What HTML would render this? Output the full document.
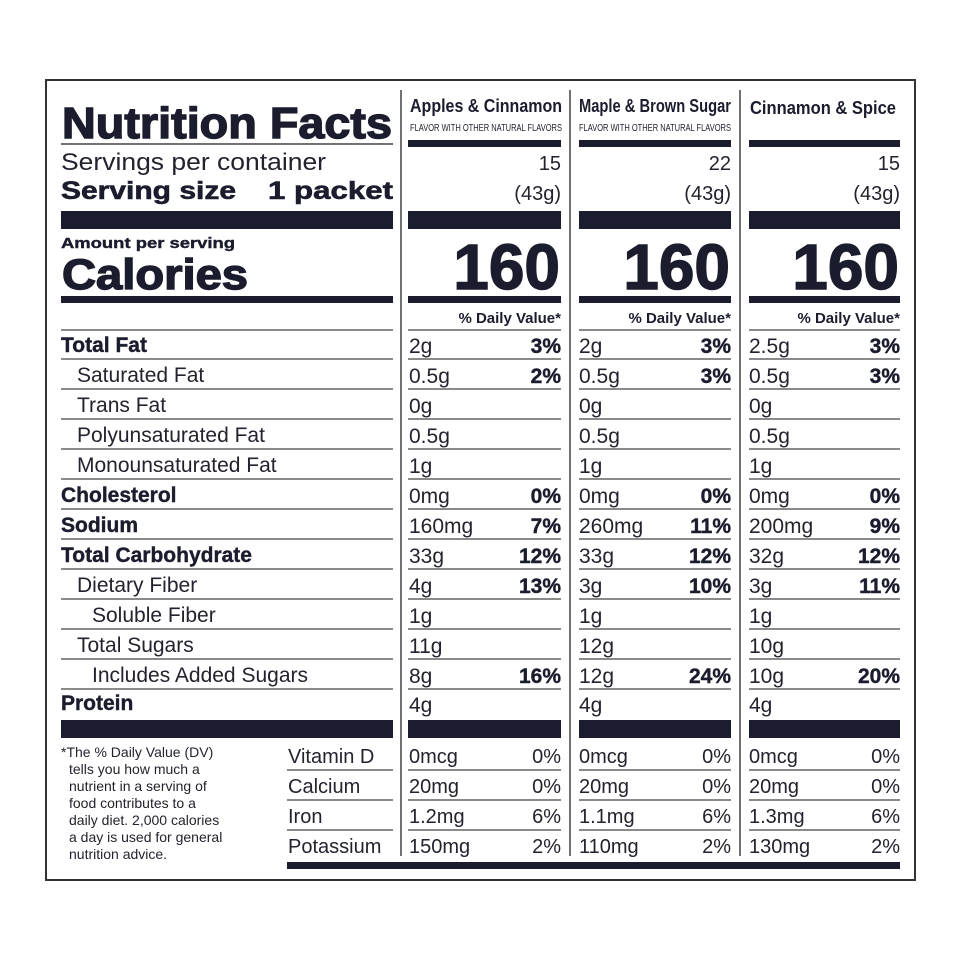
<!DOCTYPE html>
<html><head><meta charset="utf-8"><style>
html,body{margin:0;padding:0;background:#fff;}
svg{display:block}
text{font-family:"Liberation Sans",Arial,sans-serif;fill:#22232e}
.b{font-weight:bold;fill:#1b1d2e}
.hv{stroke:#1b1d2e;stroke-width:1.4}
.r{font-size:21px}
.rb{font-size:21px;font-weight:bold;fill:#1b1d2e;stroke:#1b1d2e;stroke-width:0.4}
.e{text-anchor:end}
.v{font-size:20px}
.f{font-size:14px}
</style></head><body>
<svg width="960" height="960" viewBox="0 0 960 960" xmlns="http://www.w3.org/2000/svg">
<rect x="0" y="0" width="960" height="960" fill="#fff"/>
<rect x="46" y="80" width="869" height="800" fill="none" stroke="#333" stroke-width="2"/>
<g stroke="#444" stroke-width="1.5">
<line x1="401" y1="90" x2="401" y2="856"/>
<line x1="570" y1="90" x2="570" y2="856"/>
<line x1="740" y1="90" x2="740" y2="856"/>
</g>
<text x="62" y="138" class="b hv" font-size="44" textLength="330" lengthAdjust="spacingAndGlyphs">Nutrition Facts</text>
<line x1="61" y1="144" x2="393" y2="144" stroke="#444" stroke-width="1.5"/>
<text x="61" y="170" font-size="24" textLength="265" lengthAdjust="spacingAndGlyphs">Servings per container</text>
<text x="61" y="199" class="b" font-size="25" textLength="175" lengthAdjust="spacingAndGlyphs" stroke="#1b1d2e" stroke-width="0.6">Serving size</text>
<text x="393" y="199" class="b e" font-size="25" textLength="125" lengthAdjust="spacingAndGlyphs" stroke="#1b1d2e" stroke-width="0.6">1 packet</text>
<g fill="#1b1d2e">
<rect x="61" y="211" width="332" height="18"/>
<rect x="408" y="211" width="153" height="18"/>
<rect x="579" y="211" width="152" height="18"/>
<rect x="749" y="211" width="151" height="18"/>
<rect x="61" y="296" width="332" height="7"/>
<rect x="408" y="296" width="153" height="7"/>
<rect x="579" y="296" width="152" height="7"/>
<rect x="749" y="296" width="151" height="7"/>
<rect x="408" y="140" width="153" height="7"/>
<rect x="579" y="140" width="152" height="7"/>
<rect x="749" y="140" width="151" height="7"/>
<rect x="61" y="720" width="332" height="18"/>
<rect x="408" y="720" width="153" height="18"/>
<rect x="579" y="720" width="152" height="18"/>
<rect x="749" y="720" width="151" height="18"/>
<rect x="287" y="862" width="613" height="7"/>
</g>
<text x="61" y="248" class="b" font-size="15" textLength="174" lengthAdjust="spacingAndGlyphs" stroke="#1b1d2e" stroke-width="0.4">Amount per serving</text>
<text x="62" y="289" class="b hv" font-size="43" textLength="186" lengthAdjust="spacingAndGlyphs">Calories</text>
<text x="410" y="112" class="b" font-size="18" textLength="152" lengthAdjust="spacingAndGlyphs">Apples &amp; Cinnamon</text>
<text x="410" y="131" font-size="10" textLength="152" lengthAdjust="spacingAndGlyphs">FLAVOR WITH OTHER NATURAL FLAVORS</text>
<text x="579" y="112" class="b" font-size="18" textLength="152" lengthAdjust="spacingAndGlyphs">Maple &amp; Brown Sugar</text>
<text x="579" y="131" font-size="10" textLength="152" lengthAdjust="spacingAndGlyphs">FLAVOR WITH OTHER NATURAL FLAVORS</text>
<text x="750" y="114" class="b" font-size="18" textLength="146" lengthAdjust="spacingAndGlyphs">Cinnamon &amp; Spice</text>
<g font-size="20">
<text x="561" y="170" class="e">15</text><text x="561" y="200" class="e">(43g)</text>
<text x="731" y="170" class="e">22</text><text x="731" y="200" class="e">(43g)</text>
<text x="900" y="170" class="e">15</text><text x="900" y="200" class="e">(43g)</text>
</g>
<g font-size="64">
<text x="560" y="289" class="b e hv">160</text>
<text x="730" y="289" class="b e hv">160</text>
<text x="899" y="289" class="b e hv">160</text>
</g>
<g font-size="15">
<text x="561" y="323" class="b e">% Daily Value*</text>
<text x="731" y="323" class="b e">% Daily Value*</text>
<text x="900" y="323" class="b e">% Daily Value*</text>
</g>
<g stroke="#444" stroke-width="1.3">
<line x1="61" y1="330" x2="393" y2="330"/><line x1="408" y1="330" x2="561" y2="330"/><line x1="579" y1="330" x2="731" y2="330"/><line x1="749" y1="330" x2="900" y2="330"/>
<line x1="61" y1="359" x2="393" y2="359"/><line x1="408" y1="359" x2="561" y2="359"/><line x1="579" y1="359" x2="731" y2="359"/><line x1="749" y1="359" x2="900" y2="359"/>
<line x1="61" y1="389" x2="393" y2="389"/><line x1="408" y1="389" x2="561" y2="389"/><line x1="579" y1="389" x2="731" y2="389"/><line x1="749" y1="389" x2="900" y2="389"/>
<line x1="61" y1="419" x2="393" y2="419"/><line x1="408" y1="419" x2="561" y2="419"/><line x1="579" y1="419" x2="731" y2="419"/><line x1="749" y1="419" x2="900" y2="419"/>
<line x1="61" y1="449" x2="393" y2="449"/><line x1="408" y1="449" x2="561" y2="449"/><line x1="579" y1="449" x2="731" y2="449"/><line x1="749" y1="449" x2="900" y2="449"/>
<line x1="61" y1="479" x2="393" y2="479"/><line x1="408" y1="479" x2="561" y2="479"/><line x1="579" y1="479" x2="731" y2="479"/><line x1="749" y1="479" x2="900" y2="479"/>
<line x1="61" y1="509" x2="393" y2="509"/><line x1="408" y1="509" x2="561" y2="509"/><line x1="579" y1="509" x2="731" y2="509"/><line x1="749" y1="509" x2="900" y2="509"/>
<line x1="61" y1="539" x2="393" y2="539"/><line x1="408" y1="539" x2="561" y2="539"/><line x1="579" y1="539" x2="731" y2="539"/><line x1="749" y1="539" x2="900" y2="539"/>
<line x1="61" y1="569" x2="393" y2="569"/><line x1="408" y1="569" x2="561" y2="569"/><line x1="579" y1="569" x2="731" y2="569"/><line x1="749" y1="569" x2="900" y2="569"/>
<line x1="61" y1="599" x2="393" y2="599"/><line x1="408" y1="599" x2="561" y2="599"/><line x1="579" y1="599" x2="731" y2="599"/><line x1="749" y1="599" x2="900" y2="599"/>
<line x1="61" y1="629" x2="393" y2="629"/><line x1="408" y1="629" x2="561" y2="629"/><line x1="579" y1="629" x2="731" y2="629"/><line x1="749" y1="629" x2="900" y2="629"/>
<line x1="61" y1="659" x2="393" y2="659"/><line x1="408" y1="659" x2="561" y2="659"/><line x1="579" y1="659" x2="731" y2="659"/><line x1="749" y1="659" x2="900" y2="659"/>
<line x1="61" y1="689" x2="393" y2="689"/><line x1="408" y1="689" x2="561" y2="689"/><line x1="579" y1="689" x2="731" y2="689"/><line x1="749" y1="689" x2="900" y2="689"/>
<line x1="287" y1="770" x2="393" y2="770"/><line x1="408" y1="770" x2="561" y2="770"/><line x1="579" y1="770" x2="731" y2="770"/><line x1="749" y1="770" x2="900" y2="770"/>
<line x1="287" y1="800" x2="393" y2="800"/><line x1="408" y1="800" x2="561" y2="800"/><line x1="579" y1="800" x2="731" y2="800"/><line x1="749" y1="800" x2="900" y2="800"/>
<line x1="287" y1="830" x2="393" y2="830"/><line x1="408" y1="830" x2="561" y2="830"/><line x1="579" y1="830" x2="731" y2="830"/><line x1="749" y1="830" x2="900" y2="830"/>
</g>
<text x="61" y="352" class="rb">Total Fat</text>
<text x="77" y="382" class="r">Saturated Fat</text>
<text x="77" y="412" class="r">Trans Fat</text>
<text x="77" y="442" class="r">Polyunsaturated Fat</text>
<text x="77" y="472" class="r">Monounsaturated Fat</text>
<text x="61" y="502" class="rb">Cholesterol</text>
<text x="61" y="532" class="rb">Sodium</text>
<text x="61" y="562" class="rb">Total Carbohydrate</text>
<text x="77" y="592" class="r">Dietary Fiber</text>
<text x="92" y="622" class="r">Soluble Fiber</text>
<text x="77" y="652" class="r">Total Sugars</text>
<text x="92" y="682" class="r">Includes Added Sugars</text>
<text x="61" y="710" class="rb">Protein</text>
<g>
<text x="409" y="353" class="r">2g</text><text x="409" y="383" class="r">0.5g</text><text x="409" y="413" class="r">0g</text><text x="409" y="443" class="r">0.5g</text><text x="409" y="473" class="r">1g</text><text x="409" y="503" class="r">0mg</text><text x="409" y="533" class="r">160mg</text><text x="409" y="563" class="r">33g</text><text x="409" y="593" class="r">4g</text><text x="409" y="623" class="r">1g</text><text x="409" y="653" class="r">11g</text><text x="409" y="683" class="r">8g</text><text x="409" y="712" class="r">4g</text>
<text x="579" y="353" class="r">2g</text><text x="579" y="383" class="r">0.5g</text><text x="579" y="413" class="r">0g</text><text x="579" y="443" class="r">0.5g</text><text x="579" y="473" class="r">1g</text><text x="579" y="503" class="r">0mg</text><text x="579" y="533" class="r">260mg</text><text x="579" y="563" class="r">33g</text><text x="579" y="593" class="r">3g</text><text x="579" y="623" class="r">1g</text><text x="579" y="653" class="r">12g</text><text x="579" y="683" class="r">12g</text><text x="579" y="712" class="r">4g</text>
<text x="749" y="353" class="r">2.5g</text><text x="749" y="383" class="r">0.5g</text><text x="749" y="413" class="r">0g</text><text x="749" y="443" class="r">0.5g</text><text x="749" y="473" class="r">1g</text><text x="749" y="503" class="r">0mg</text><text x="749" y="533" class="r">200mg</text><text x="749" y="563" class="r">32g</text><text x="749" y="593" class="r">3g</text><text x="749" y="623" class="r">1g</text><text x="749" y="653" class="r">10g</text><text x="749" y="683" class="r">10g</text><text x="749" y="712" class="r">4g</text>
</g>
<g>
<text x="561" y="353" class="rb e">3%</text><text x="561" y="383" class="rb e">2%</text><text x="561" y="503" class="rb e">0%</text><text x="561" y="533" class="rb e">7%</text><text x="561" y="563" class="rb e">12%</text><text x="561" y="593" class="rb e">13%</text><text x="561" y="683" class="rb e">16%</text>
<text x="731" y="353" class="rb e">3%</text><text x="731" y="383" class="rb e">3%</text><text x="731" y="503" class="rb e">0%</text><text x="731" y="533" class="rb e">11%</text><text x="731" y="563" class="rb e">12%</text><text x="731" y="593" class="rb e">10%</text><text x="731" y="683" class="rb e">24%</text>
<text x="900" y="353" class="rb e">3%</text><text x="900" y="383" class="rb e">3%</text><text x="900" y="503" class="rb e">0%</text><text x="900" y="533" class="rb e">9%</text><text x="900" y="563" class="rb e">12%</text><text x="900" y="593" class="rb e">11%</text><text x="900" y="683" class="rb e">20%</text>
</g>
<text x="288" y="763" class="v">Vitamin D</text>
<text x="288" y="793" class="v">Calcium</text>
<text x="288" y="823" class="v">Iron</text>
<text x="288" y="853" class="v">Potassium</text>
<text x="409" y="763" class="v">0mcg</text><text x="561" y="763" class="v e">0%</text>
<text x="409" y="793" class="v">20mg</text><text x="561" y="793" class="v e">0%</text>
<text x="409" y="823" class="v">1.2mg</text><text x="561" y="823" class="v e">6%</text>
<text x="409" y="853" class="v">150mg</text><text x="561" y="853" class="v e">2%</text>
<text x="579" y="763" class="v">0mcg</text><text x="731" y="763" class="v e">0%</text>
<text x="579" y="793" class="v">20mg</text><text x="731" y="793" class="v e">0%</text>
<text x="579" y="823" class="v">1.1mg</text><text x="731" y="823" class="v e">6%</text>
<text x="579" y="853" class="v">110mg</text><text x="731" y="853" class="v e">2%</text>
<text x="749" y="763" class="v">0mcg</text><text x="900" y="763" class="v e">0%</text>
<text x="749" y="793" class="v">20mg</text><text x="900" y="793" class="v e">0%</text>
<text x="749" y="823" class="v">1.3mg</text><text x="900" y="823" class="v e">6%</text>
<text x="749" y="853" class="v">130mg</text><text x="900" y="853" class="v e">2%</text>
<text x="61" y="757" class="f">*The % Daily Value (DV)</text>
<text x="69" y="774" class="f">tells you how much a</text>
<text x="69" y="791" class="f">nutrient in a serving of</text>
<text x="69" y="808" class="f">food contributes to a</text>
<text x="69" y="825" class="f">daily diet. 2,000 calories</text>
<text x="69" y="842" class="f">a day is used for general</text>
<text x="69" y="859" class="f">nutrition advice.</text>
</svg>
</body></html>
